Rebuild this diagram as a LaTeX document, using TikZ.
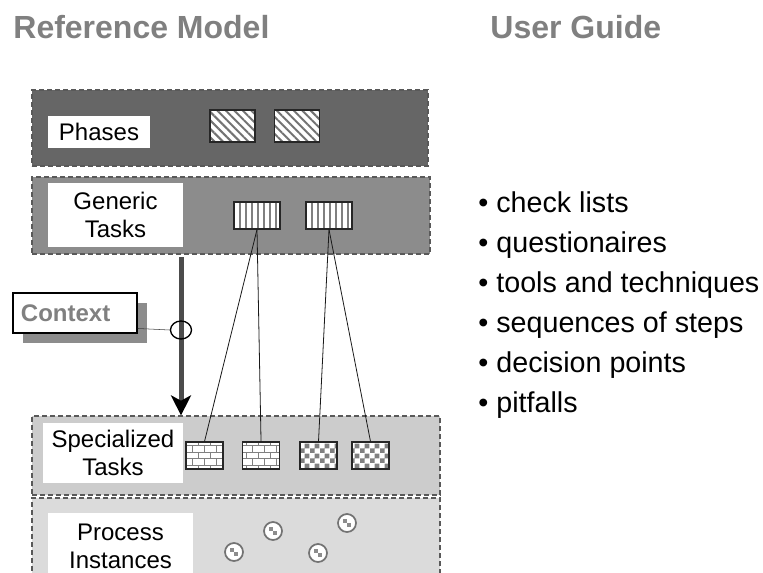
\documentclass[tikz,border=0pt]{standalone}
\usepackage{fontspec}
\setmainfont{Liberation Sans}
\usepackage{tikz}
\usetikzlibrary{arrows.meta,positioning,patterns,patterns.meta,shapes.geometric,shadows}

\pgfdeclarepatternformonly{smallbricks}{\pgfqpoint{-1pt}{-1pt}}{\pgfqpoint{10pt}{11pt}}{\pgfqpoint{9pt}{10pt}}
{
  \pgfsetlinewidth{0.6pt}
  \pgfpathmoveto{\pgfqpoint{0pt}{0pt}}\pgfpathlineto{\pgfqpoint{9pt}{0pt}}
  \pgfpathmoveto{\pgfqpoint{0pt}{5pt}}\pgfpathlineto{\pgfqpoint{9pt}{5pt}}
  \pgfpathmoveto{\pgfqpoint{0pt}{0pt}}\pgfpathlineto{\pgfqpoint{0pt}{5pt}}
  \pgfpathmoveto{\pgfqpoint{4.5pt}{5pt}}\pgfpathlineto{\pgfqpoint{4.5pt}{10pt}}
  \pgfusepath{stroke}
}
\pgfdeclarepatternformonly{smallchecker}{\pgfqpoint{0pt}{0pt}}{\pgfqpoint{7.5pt}{7.5pt}}{\pgfqpoint{7.5pt}{7.5pt}}
{
  \pgfpathrectangle{\pgfqpoint{0pt}{0pt}}{\pgfqpoint{3.75pt}{3.75pt}}
  \pgfpathrectangle{\pgfqpoint{3.75pt}{3.75pt}}{\pgfqpoint{3.75pt}{3.75pt}}
  \pgfusepath{fill}
}

\begin{document}
\begin{tikzpicture}[x=0.75pt,y=-0.75pt,semithick,node distance=48pt,
		font=\fontsize{18}{21}\selectfont]
		\tikzstyle{band}=[draw=black!65,line width=0.9pt,dash pattern=on 4pt off 2pt,inner sep=0pt]
		\tikzstyle{caption}=[fill=white,inner sep=0pt,align=center]
		\tikzstyle{cell}=[draw=black!85,line width=0.8pt,inner sep=0pt,minimum width=27.75pt,minimum height=20.25pt,preaction={fill=white}]
		\tikzstyle{hatchcell}=[cell,minimum width=33.75pt,minimum height=24pt,pattern={Lines[angle=-45,distance=4.5pt,line width=1.5pt]},pattern color=black!55]
		\tikzstyle{stripecell}=[cell,minimum width=34.5pt,pattern={Lines[angle=90,distance=4.5pt,line width=0.8pt]},pattern color=black!50]
		\tikzstyle{brickcell}=[cell,pattern=smallbricks,pattern color=black!50]
		\tikzstyle{checkcell}=[cell,pattern=smallchecker,pattern color=black!50]
		\tikzstyle{instance}=[circle,draw=black!55,line width=1.3pt,fill=white,minimum size=13.5pt,inner sep=0pt,
			path picture={\fill[black!45] (path picture bounding box.center) rectangle +(-3.2pt,3.2pt);
				\fill[black!45] (path picture bounding box.center) rectangle +(3.2pt,-3.2pt);}]
		\tikzstyle{heading}=[font=\bfseries\fontsize{24}{28}\selectfont,text=black!50,anchor=base west,inner sep=0pt]
		\tikzstyle{item}=[font=\fontsize{21.5}{25}\selectfont,anchor=base west,inner sep=0pt]
		
		\useasboundingbox (0,0) rectangle (763,572);
		\clip (0,0) rectangle (763,572);
		
		\node[heading] (rm) at (13,38) {Reference Model};
		\node[heading] (ug) at (490,38) {User Guide};
		
		\node[band,fill=black!60,minimum width=297pt,minimum height=57pt] (ph) at (230,128) {};
		\node[band,fill=black!45,minimum width=298.5pt,minimum height=57.75pt] (gt) at (231,215.5) {};
		\node[band,fill=black!20,minimum width=306pt,minimum height=59.25pt] (st) at (236,455.5) {};
		\node[band,fill=black!14,minimum width=306pt,minimum height=75pt] (pi) at (236,548) {};
		
		\node[caption,minimum width=76.5pt,minimum height=24pt] (phl) at (99,132) {Phases};
		\node[caption,minimum width=101pt,minimum height=48pt] (gtl) at (115.5,215) {Generic\\Tasks};
		\node[caption,minimum width=105pt,minimum height=45pt] (stl) at (113,453) {Specialized\\Tasks};
		\node[caption,minimum width=109pt,minimum height=50pt] (pil) at (120.5,546.5) {Process\\Instances};
		
		\node[hatchcell] (ph1) at (232.5,126) {};
		\node[hatchcell] (ph2) [right of=ph1,node distance=48.4pt] {};
		\node[stripecell] (gt1) at (257,215.5) {};
		\node[stripecell] (gt2) [right of=gt1,node distance=54pt] {};
		\node[brickcell] (st1) at (204.5,455.5) {};
		\node[brickcell] (st2) [right of=st1,node distance=42.4pt] {};
		\node[checkcell] (st3) [right of=st2,node distance=43.1pt] {};
		\node[checkcell] (st4) [right of=st3,node distance=39pt] {};
		
		\node[instance] (pi1) at (273,531) {};
		\node[instance] (pi2) at (347,523) {};
		\node[instance] (pi3) at (234,552) {};
		\node[instance] (pi4) at (318,553) {};
		
		\path[draw=black!90]
		(gt1.south) edge (st1.north)
		(gt1.south) edge (st2.north)
		(gt2.south) edge (st3.north)
		(gt2.south) edge (st4.north);
		
		\coordinate (ctop) at (181,257);
		\draw[line width=3.75pt,black!70,-{Stealth[length=15pt,width=15pt,inset=4pt,black]}] (ctop) -- (ctop |- st.north);
		\node[ellipse,draw,line width=1pt,minimum width=15.75pt,minimum height=13.5pt,inner sep=0pt] (ring) at (181,330) {};
		
		\node[draw,line width=1.2pt,fill=white,drop shadow={shadow xshift=7.5pt,shadow yshift=-7.5pt,fill=black!45,opacity=1},
			minimum width=93pt,minimum height=30pt,text width=81pt,align=left,inner xsep=6pt,
			font=\bfseries\fontsize{18}{21}\selectfont,text=black!50] (ctx) at (75,313) {Context};
		\draw[black!75,thin] ([yshift=4pt]ctx.south east) -- (ring.west);
		
		\foreach \t [count=\i from 0] in {check lists,questionaires,tools and techniques,sequences of steps,decision points,pitfalls}
		\node[item] (ug\i) at (478,{212+40*\i}) {\textbullet\ \t};
\end{tikzpicture}
\end{document}
